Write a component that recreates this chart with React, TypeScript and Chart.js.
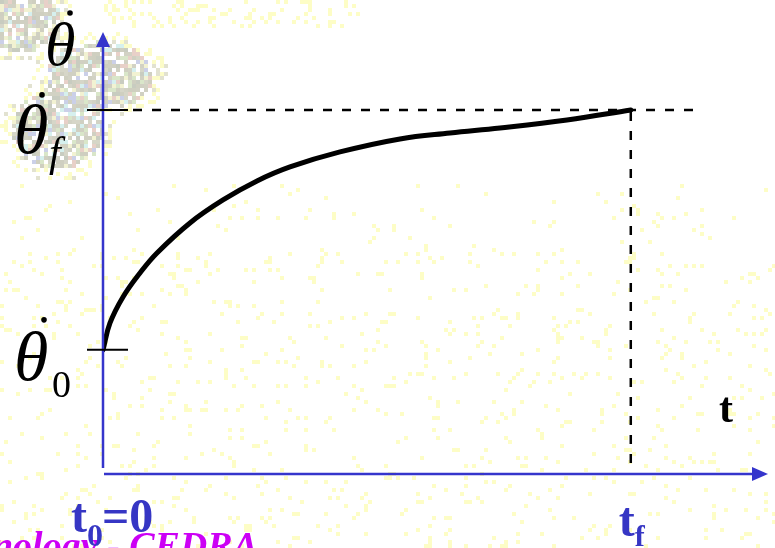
import React, { useEffect, useRef } from "react";
import { Chart, registerables } from "chart.js";

Chart.register(...registerables);

// Angular velocity profile from t0 = 0 to tf (normalised units)
const curveTime = [0, 0.133, 0.379, 0.701, 1.023, 1.648, 2.274, 2.918, 3.543, 4.49, 5.627, 6.575, 7.522, 8.791, 10];
const curveRate = [3.41, 4.148, 4.863, 5.522, 6.071, 6.896, 7.527, 8.049, 8.434, 8.846, 9.203, 9.368, 9.505, 9.725, 10];

const T_START = 0;
const T_FINAL = 10;
const RATE_START = 3.41;
const RATE_FINAL = 10;
const T_AXIS_MAX = 12.6;
const RATE_AXIS_MAX = 12.14;

const AXIS_BLUE = "#3535cc";
const LABEL_BLUE = "#3636c4";
const FOOTER_MAGENTA = "#cc00f5";

// small integer hash for the paper texture
function hash(ix: number, iy: number, seed: number): number {
  let h = Math.imul(ix, 374761393) ^ Math.imul(iy, 668265263) ^ Math.imul(seed, 2246822519);
  h = Math.imul(h ^ (h >>> 13), 1274126177);
  h = Math.imul(h ^ (h >>> 16), 2654435761);
  h = h ^ (h >>> 15);
  return (h >>> 0) / 4294967296;
}

const texturePlugin = {
  id: "paperTexture",
  beforeDraw(chart: any) {
    const ctx = chart.ctx as CanvasRenderingContext2D;
    const W = chart.width;
    const H = chart.height;
    ctx.save();
    ctx.fillStyle = "#ffffff";
    ctx.fillRect(0, 0, W, H);
    const cell = 4;
    const blobs = [
      { cx: 20, cy: 16, rx: 42, ry: 36 },
      { cx: 98, cy: 74, rx: 56, ry: 36 },
      { cx: 56, cy: 128, rx: 48, ry: 42 },
    ];
    const greys = ["#d2d2c4", "#cfcfc0", "#d6d6c8", "#c8ccc0", "#d9e6c9", "#cbd0e8", "#e8d0c8", "#d6f0ee", "#f2f2d2", "#d0d0c2"];
    for (let iy = 0; iy < H / cell; iy++) {
      for (let ix = 0; ix < W / cell; ix++) {
        const x = ix * cell;
        const y = iy * cell;
        let inside = -10;
        for (const b of blobs) {
          const d = ((x - b.cx) / b.rx) ** 2 + ((y - b.cy) / b.ry) ** 2;
          inside = Math.max(inside, 1 - d);
        }
        const r = hash(ix, iy, 1);
        if (inside > 0.1) {
          if (r < 0.8) {
            const k = Math.floor(hash(ix, iy, 2) * greys.length);
            ctx.fillStyle = greys[k];
            ctx.fillRect(x, y, cell, cell);
          }
        } else if (inside > -0.5) {
          if (r < 0.35) {
            ctx.fillStyle = r < 0.1 ? "#e2e2d0" : "#fcfcc8";
            ctx.fillRect(x, y, cell, cell);
          }
        } else {
          const upper = y < 28 && x > 100 && x < 360;
          const p = upper ? 0.22 : y > 250 ? 0.06 : y > 180 ? 0.03 : 0.0;
          if (r < p) {
            ctx.fillStyle = "#fdfdc6";
            ctx.fillRect(x, y, cell, cell);
          }
        }
      }
    }
    ctx.restore();
  },
};

function drawThetaDot(ctx: CanvasRenderingContext2D, x: number, baseline: number, size: number, dotX: number, dotY: number) {
  ctx.font = `italic ${size}px "Liberation Serif", "DejaVu Serif", serif`;
  ctx.fillStyle = "#000";
  ctx.textAlign = "left";
  ctx.textBaseline = "alphabetic";
  ctx.fillText("θ", x, baseline);
  ctx.beginPath();
  ctx.arc(dotX, dotY, 2.8, 0, Math.PI * 2);
  ctx.fill();
}

const diagramPlugin = {
  id: "diagram",
  afterDatasetsDraw(chart: any) {
    const ctx = chart.ctx as CanvasRenderingContext2D;
    const xs = chart.scales.x;
    const ys = chart.scales.y;
    const x0 = xs.getPixelForValue(T_START);
    const xf = xs.getPixelForValue(T_FINAL);
    const xMax = xs.getPixelForValue(T_AXIS_MAX);
    const y0 = ys.getPixelForValue(0);
    const yStart = ys.getPixelForValue(RATE_START);
    const yFinal = ys.getPixelForValue(RATE_FINAL);
    const yMax = ys.getPixelForValue(RATE_AXIS_MAX);

    ctx.save();
    // dashed guides
    ctx.strokeStyle = "#000";
    ctx.lineWidth = 2.5;
    ctx.setLineDash([9, 10]);
    ctx.beginPath();
    ctx.moveTo(x0 + 30, yFinal);
    ctx.lineTo(xf + 72, yFinal);
    ctx.stroke();
    ctx.beginPath();
    ctx.moveTo(xf, yFinal + 2);
    ctx.lineTo(xf, y0);
    ctx.stroke();
    ctx.setLineDash([]);

    // axes
    ctx.strokeStyle = AXIS_BLUE;
    ctx.fillStyle = AXIS_BLUE;
    ctx.lineWidth = 2.5;
    ctx.beginPath();
    ctx.moveTo(x0, y0 - 6);
    ctx.lineTo(x0, yMax + 14);
    ctx.stroke();
    ctx.beginPath();
    ctx.moveTo(x0, yMax);
    ctx.lineTo(x0 - 7, yMax + 15);
    ctx.lineTo(x0 + 7, yMax + 15);
    ctx.closePath();
    ctx.fill();
    ctx.beginPath();
    ctx.moveTo(x0 + 1, y0);
    ctx.lineTo(xMax - 14, y0);
    ctx.stroke();
    ctx.beginPath();
    ctx.moveTo(xMax, y0);
    ctx.lineTo(xMax - 16, y0 - 7);
    ctx.lineTo(xMax - 16, y0 + 7);
    ctx.closePath();
    ctx.fill();

    // value ticks on the rate axis
    ctx.strokeStyle = "#000";
    ctx.lineWidth = 2;
    ctx.beginPath();
    ctx.moveTo(x0 - 16, yFinal);
    ctx.lineTo(x0 + 25, yFinal);
    ctx.moveTo(x0 - 16, yStart);
    ctx.lineTo(x0 + 25, yStart);
    ctx.stroke();

    // footer text (behind the axis labels)
    ctx.font = `italic bold 38px "Liberation Serif", serif`;
    ctx.fillStyle = FOOTER_MAGENTA;
    ctx.textAlign = "right";
    ctx.textBaseline = "alphabetic";
    ctx.fillText("nology - CEDRA", 258, 558);
    ctx.textAlign = "left";

    // rate axis labels
    drawThetaDot(ctx, 45, 65, 62, 70, 13);
    drawThetaDot(ctx, 14, yFinal + 43, 70, 42, yFinal - 15);
    ctx.font = `italic 42px "Liberation Serif", serif`;
    ctx.fillText("f", 49, yFinal + 56);
    drawThetaDot(ctx, 14, yStart + 30, 70, 44, yStart - 30);
    ctx.font = `38px "Liberation Serif", serif`;
    ctx.fillText("0", 52, yStart + 47);

    // time axis labels
    ctx.fillStyle = "#000";
    ctx.font = `bold 42px "Liberation Serif", serif`;
    ctx.fillText("t", 719, y0 - 52);

    ctx.fillStyle = LABEL_BLUE;
    ctx.font = `bold 48px "Liberation Serif", serif`;
    ctx.fillText("t", x0 - 32, y0 + 58);
    const tW = ctx.measureText("t").width;
    ctx.font = `bold 32px "Liberation Serif", serif`;
    ctx.fillText("0", x0 - 32 + tW, y0 + 72);
    const sW = ctx.measureText("0").width;
    ctx.font = `bold 48px "Liberation Serif", serif`;
    ctx.fillText("=0", x0 - 32 + tW + sW - 1, y0 + 58);

    ctx.fillText("t", xf - 12, y0 + 62);
    const tW2 = ctx.measureText("t").width;
    ctx.font = `bold 30px "Liberation Serif", serif`;
    ctx.fillText("f", xf - 12 + tW2, y0 + 72);
    ctx.restore();
  },
};

export default function App() {
  const canvasRef = useRef<HTMLCanvasElement | null>(null);

  useEffect(() => {
    if (!canvasRef.current) return;
    const points = curveTime.map((t, i) => ({ x: t, y: curveRate[i] }));
    const chart = new Chart(canvasRef.current, {
      type: "line",
      data: {
        datasets: [
          {
            data: points,
            borderColor: "#000000",
            borderWidth: 5,
            pointRadius: 0,
            fill: false,
            tension: 0.4,
            borderCapStyle: "round",
          },
        ],
      },
      options: {
        animation: false,
        responsive: false,
        layout: { padding: { left: 103, right: 7, top: 32, bottom: 74 } },
        plugins: { legend: { display: false }, tooltip: { enabled: false } },
        scales: {
          x: { type: "linear", min: 0, max: T_AXIS_MAX, display: false },
          y: { type: "linear", min: 0, max: RATE_AXIS_MAX, display: false },
        },
      },
      plugins: [texturePlugin, diagramPlugin],
    });
    return () => chart.destroy();
  }, []);

  return (
    <div style={{ position: "fixed", left: 0, top: 0, width: 775, height: 548, overflow: "hidden", background: "#fff" }}>
      <canvas ref={canvasRef} width={775} height={548} style={{ display: "block" }} />
    </div>
  );
}
